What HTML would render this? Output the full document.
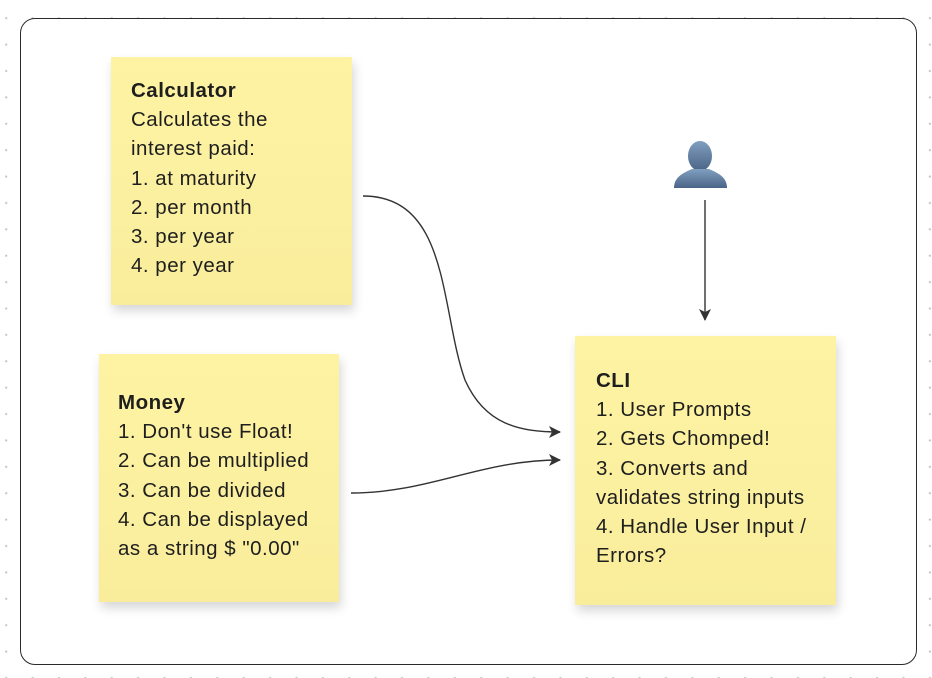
<!DOCTYPE html>
<html><head><meta charset="utf-8"><style>
html,body{margin:0;padding:0;}
body{width:932px;height:678px;position:relative;overflow:hidden;background:#fff;
background-image:radial-gradient(circle,#c4c4c4 0.9px,transparent 1.3px);background-size:26.4px 26.4px;background-position:-7px 5px;
font-family:"Liberation Sans",sans-serif;color:#1e1e1e;}
.frame{position:absolute;left:20px;top:18px;width:895px;height:645px;border:1.5px solid #2a2a2a;border-radius:15px;background:#fff;}
.note{position:absolute;background:linear-gradient(#fdf3a3,#fbf0a0 60%,#f9ed9b);box-shadow:2px 6px 10px rgba(0,0,0,0.16);}
.t{position:absolute;font-size:20.5px;line-height:29.2px;white-space:pre;letter-spacing:0.5px}
b{font-weight:bold}
</style></head><body>
<div class="frame"></div>
<div class="note" style="left:111px;top:57px;width:241px;height:248px"></div>
<div class="t" style="left:131px;top:76px"><b>Calculator</b>
Calculates the
interest paid:
1. at maturity
2. per month
3. per year
4. per year</div>
<div class="note" style="left:99px;top:354px;width:240px;height:248px"></div>
<div class="t" style="left:118px;top:388px"><b>Money</b>
1. Don't use Float!
2. Can be multiplied
3. Can be divided
4. Can be displayed
as a string $ "0.00"</div>
<div class="note" style="left:575px;top:336px;width:261px;height:269px"></div>
<div class="t" style="left:596px;top:366px"><b>CLI</b>
1. User Prompts
2. Gets Chomped!
3. Converts and
validates string inputs
4. Handle User Input /
Errors?</div>
<svg width="932" height="678" style="position:absolute;left:0;top:0">
<defs>
<linearGradient id="p" x1="0" y1="0" x2="0" y2="1"><stop offset="0" stop-color="#809fbf"/><stop offset="1" stop-color="#4a6486"/></linearGradient>
<marker id="a" markerWidth="14" markerHeight="14" refX="11" refY="6" orient="auto" markerUnits="userSpaceOnUse"><path d="M0,0 L12,6 L0,12 L3,6 Z" fill="#333"/></marker>
</defs>
<g fill="url(#p)">
<ellipse cx="700" cy="156" rx="12" ry="15"/>
<path d="M674,188 C674,177 683,173 692,169 L709,169 C718,173 727,177 727,188 Z"/>
</g>
<g stroke="#333" stroke-width="1.4" fill="none">
<path d="M705,200 L705,320" marker-end="url(#a)"/>
<path d="M363,196 C450,196 440,310 465,380 C485,425 520,432 560,432" marker-end="url(#a)"/>
<path d="M351,493 C430,493 480,460 560,460" marker-end="url(#a)"/>
</g>
</svg>
</body></html>
